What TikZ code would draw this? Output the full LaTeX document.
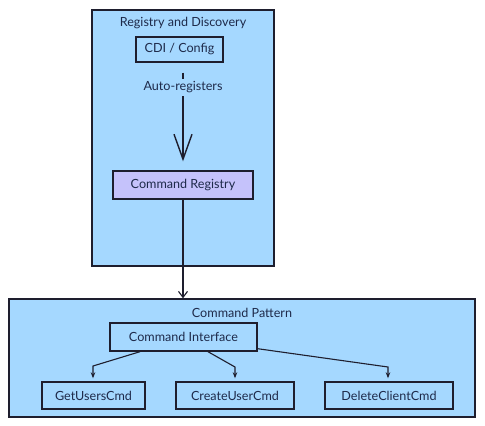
\documentclass[tikz,border=0pt]{standalone}
\usepackage{fontspec}
\setmainfont{Lato}
\usetikzlibrary{arrows.meta,calc}
\definecolor{clfill}{HTML}{A5D8FF}
\definecolor{regfill}{HTML}{C5C2FB}
\definecolor{ink}{HTML}{1E1E2E}
\definecolor{txt}{HTML}{1E2A4A}
\begin{document}
\begin{tikzpicture}[x=1pt,y=-1pt,
  cluster/.style={draw=ink,line width=1.4pt,fill=clfill,rectangle,inner sep=0pt},
  box/.style={draw=ink,line width=1.4pt,fill=clfill,rectangle,inner sep=0pt,text=txt,font=\fontsize{12.6}{14}\selectfont},
  ttl/.style={text=txt,font=\fontsize{12.6}{14}\selectfont,inner sep=1pt},
  edge/.style={draw=ink,line width=1.1pt,-{Stealth[length=6pt,width=4.5pt]}}]
\useasboundingbox (0,0) rectangle (485,426);
\fill[white] (0,0) rectangle (485,426);
% clusters
\node[cluster,minimum width=182pt,minimum height=256pt] (top) at (183,138) {};
\node[ttl] (toptitle) at (183,23) {Registry and Discovery};
\node[cluster,minimum width=466pt,minimum height=118pt] (bot) at (242,358) {};
\node[ttl] (bottitle) at (242,313) {Command Pattern};
% nodes
\node[box,minimum width=87pt,minimum height=25pt] (cdi) at (179.5,49.5) {CDI / Config};
\node[box,fill=regfill,minimum width=140pt,minimum height=28pt] (reg) at (183,185) {Command Registry};
\node[box,minimum width=147pt,minimum height=28pt] (ci) at (183.5,337) {Command Interface};
\node[box,minimum width=103pt,minimum height=27pt] (get) at (93.5,395.5) {GetUsersCmd};
\node[box,minimum width=118pt,minimum height=27pt] (create) at (235,395.5) {CreateUserCmd};
\node[box,minimum width=128pt,minimum height=27pt] (del) at (389,395.5) {DeleteClientCmd};
% edges
\draw[draw=ink,line width=1.8pt,shorten <=10pt,shorten >=9pt,
  -{Straight Barb[length=25pt,width=18pt,line width=1.4pt]}]
  (cdi.south -| reg.north) -- node[pos=0.23,fill=clfill,ttl,inner sep=3pt] (lab) {Auto-registers} (reg.north);
\draw[draw=ink,line width=1.1pt,-{Straight Barb[length=6pt,width=9pt]}] (reg.south) -- (reg.south |- bot.north);
\coordinate (b1) at (93,366);
\coordinate (b2) at (235,367);
\coordinate (b3) at (388,367);
\draw[edge,shorten >=3pt] ([xshift=-43.5pt]ci.south) -- (b1) -- (b1 |- get.north);
\draw[edge,shorten >=3pt] ([xshift=24.5pt]ci.south) -- (b2) -- (create.north);
\draw[edge,shorten >=3pt] ([yshift=3pt]ci.south east) -- (b3) -- (b3 |- del.north);
\end{tikzpicture}
\end{document}
